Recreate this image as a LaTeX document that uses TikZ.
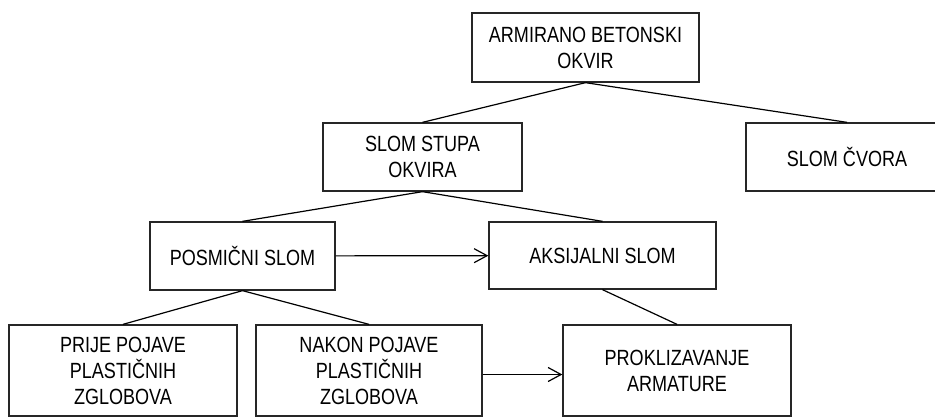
\documentclass[tikz,border=0pt]{standalone}
\usepackage{fontspec}
\setmainfont[FakeStretch=0.82]{Liberation Sans}
\usepackage{tikz}
\usetikzlibrary{arrows.meta}

\begin{document}
\begin{tikzpicture}[x=1pt,y=-1pt]
        \tikzstyle{box}=[rectangle,draw=black!85,line width=1.3pt,align=center,inner sep=0pt,font=\fontsize{22}{26}\selectfont]
        \tikzstyle{edge}=[draw,line width=1.2pt]
        \tikzstyle{arr}=[-{Straight Barb[length=13pt,width=14pt]}]
        \useasboundingbox (0,0) rectangle (935,418);
        \clip (0,0) rectangle (935,418);
       \begin{scope}
         \node [box,minimum width=227pt,minimum height=69pt] (okvir) at (585.5,47.5) {ARMIRANO BETONSKI\\OKVIR};
         \node [box,minimum width=199pt,minimum height=68pt] (stup) at (422.5,157) {SLOM STUPA\\OKVIRA};
         \node [box,minimum width=202pt,minimum height=68pt] (cvor) at (847,157) {SLOM ČVORA};
         \node [box,minimum width=185pt,minimum height=68pt] (posmik) at (242.5,256) {POSMIČNI SLOM};
         \node [box,minimum width=227pt,minimum height=67pt] (aksijal) at (602.5,255.5) {AKSIJALNI SLOM};
         \node [box,minimum width=228pt,minimum height=91pt] (prije) at (123,370.5) {PRIJE POJAVE\\PLASTIČNIH\\ZGLOBOVA};
         \node [box,minimum width=226pt,minimum height=91pt] (nakon) at (369,370.5) {NAKON POJAVE\\PLASTIČNIH\\ZGLOBOVA};
         \node [box,minimum width=228pt,minimum height=91pt] (proklizanje) at (677,370.5) {PROKLIZAVANJE\\ARMATURE};
         \path[edge] (okvir.south) -- (stup.north);
         \path[edge] (okvir.south) -- (cvor.north);
         \path[edge] (stup.south) -- (posmik.north);
         \path[edge] (stup.south) -- (aksijal.north);
         \path[edge] (posmik.south) -- (prije.north);
         \path[edge] (posmik.south) -- (nakon.north);
         \path[edge] (aksijal.south) -- (proklizanje.north);
         \path[edge,arr] (posmik) -- (aksijal);
         \path[edge,arr] ([yshift=-4pt]nakon.east) -- ([yshift=-4pt]proklizanje.west);
        \end{scope}
      \end{tikzpicture}
\end{document}
